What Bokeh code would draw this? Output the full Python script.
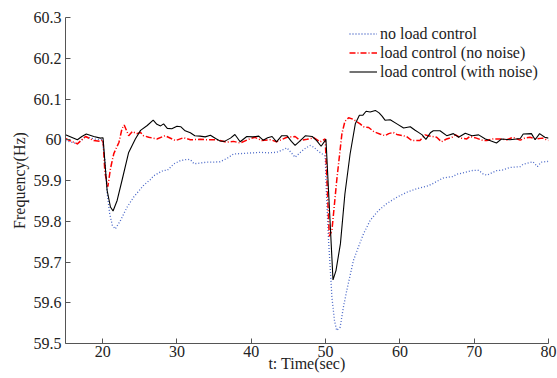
from bokeh.plotting import figure
from bokeh.models import Range1d, FixedTicker, NumeralTickFormatter, Legend, LegendItem
from bokeh.embed import file_html
from bokeh.resources import INLINE

# ---- data ----
t_noload = [15, 15.8, 16.6, 17.7, 18.8, 19.95, 20.3, 20.6, 20.95, 21.3, 21.7, 22.4, 23.3, 24.2, 25.5,
            26.4, 26.9, 28.2, 28.7, 29.6, 30.5, 31.4, 31.8, 32.3, 33.2, 34.0, 35.0, 35.8, 36.8, 37.6,
            38.5, 39.4, 40.3, 41.2, 42.3, 43.4, 44.2, 44.8, 45.4, 45.9, 46.6, 47.2, 47.9, 48.4, 49.0,
            49.95, 50.1, 50.4, 50.7, 50.85, 51.2, 51.5, 51.96, 52.4, 52.85, 53.3, 53.75, 54.4, 55.1,
            56.0, 57.1, 58.2, 59.6, 60.9, 62.3, 63.8, 64.5, 65.8, 67.2, 67.6, 68.8, 69.9, 70.6, 71.2,
            71.7, 73.0, 73.9, 74.8, 76.2, 76.6, 77.9, 78.5, 79.0, 80.0]
f_noload = [59.998, 59.994, 59.990, 60.008, 60.002, 60.000, 59.950, 59.870, 59.818, 59.790, 59.781,
            59.802, 59.835, 59.860, 59.888, 59.902, 59.912, 59.925, 59.925, 59.941, 59.949, 59.952,
            59.951, 59.941, 59.943, 59.945, 59.945, 59.946, 59.955, 59.965, 59.966, 59.967, 59.968,
            59.969, 59.968, 59.969, 59.975, 59.980, 59.968, 59.957, 59.969, 59.978, 59.986, 59.982,
            59.972, 59.960, 59.875, 59.753, 59.663, 59.614, 59.556, 59.532, 59.540, 59.589, 59.630,
            59.667, 59.704, 59.736, 59.769, 59.802, 59.826, 59.843, 59.859, 59.871, 59.880, 59.887,
            59.893, 59.906, 59.910, 59.915, 59.920, 59.925, 59.925, 59.916, 59.913, 59.924, 59.926,
            59.932, 59.934, 59.940, 59.946, 59.934, 59.945, 59.947]

t_ctrl = [15, 15.8, 16.6, 17.7, 18.8, 19.7, 20.05, 20.3, 20.7, 21.05, 21.5, 22.2, 22.6, 22.9, 23.5,
          24.0, 24.6, 25.1, 25.5, 26.2, 27.3, 28.4, 29.8, 30.9, 31.8, 33.1, 34.2, 35.4, 36.7, 37.6,
          38.5, 39.9, 40.5, 41.4, 42.6, 43.4, 44.8, 45.9, 46.6, 47.5, 48.4, 49.3, 49.95, 50.5, 50.85,
          51.2, 51.5, 51.9, 52.2, 52.6, 53.1, 53.75, 54.65, 55.1, 55.8, 56.5, 56.9, 57.3, 58.0, 58.5,
          59.1, 59.6, 60.9, 61.6, 62.7, 63.4, 63.8, 64.95, 65.6, 66.3, 67.0, 67.5, 68.2, 69.0, 69.4,
          70.3, 71.2, 71.7, 72.5, 73.5, 74.4, 75.2, 76.2, 76.8, 77.5, 78.4, 79.2, 80.0]
f_ctrl = [60.003, 59.996, 59.990, 60.008, 59.998, 59.996, 60.000, 59.920, 59.885, 59.929, 59.966,
          59.994, 60.027, 60.036, 60.010, 60.020, 60.015, 60.018, 60.010, 60.006, 60.002, 60.010,
          59.998, 60.005, 60.000, 60.001, 60.000, 60.000, 59.994, 59.996, 59.992, 60.003, 60.006,
          59.998, 60.000, 59.995, 60.006, 60.008, 59.998, 60.001, 60.005, 59.995, 60.002, 59.763,
          59.777, 59.843, 59.900, 59.966, 60.015, 60.045, 60.054, 60.050, 60.039, 60.032, 60.030,
          60.020, 60.017, 60.014, 60.010, 60.015, 60.018, 60.013, 60.008, 59.998, 59.998, 60.012,
          60.010, 60.006, 59.995, 60.002, 60.006, 60.012, 60.004, 60.002, 60.008, 60.004, 59.998,
          59.998, 60.002, 60.002, 60.000, 60.006, 59.999, 60.004, 60.006, 60.002, 60.004, 59.998]

t_noise = [15, 15.8, 16.6, 17.2, 17.8, 18.8, 19.7, 20.05, 20.6, 21.05, 21.4, 21.95, 22.6, 23.5, 24.4,
           25.1, 26.0, 26.8, 27.3, 27.8, 28.2, 28.7, 29.3, 30.0, 30.5, 31.1, 31.8, 32.4, 33.1, 33.8,
           34.5, 35.2, 35.8, 36.4, 37.2, 37.8, 38.5, 39.4, 40.2, 41.0, 41.6, 42.2, 42.8, 43.4, 44.1,
           44.8, 45.4, 45.9, 46.6, 47.3, 48.2, 48.8, 49.4, 50.05, 51.0, 51.4, 52.0, 52.6, 53.3, 54.0,
           54.55, 55.0, 55.45, 56.0, 56.7, 57.2, 57.6, 58.0, 58.7, 59.6, 60.5, 61.4, 62.0, 62.5, 63.0,
           63.5, 64.1, 64.5, 65.4, 66.3, 67.2, 67.9, 68.8, 69.7, 70.6, 71.5, 72.1, 73.0, 73.7, 74.8,
           75.7, 76.2, 76.6, 77.7, 78.2, 78.8, 79.5, 80.0]
f_noise = [60.012, 60.006, 60.000, 60.008, 60.014, 60.008, 60.004, 60.005, 59.876, 59.835, 59.825,
           59.851, 59.900, 59.969, 60.002, 60.023, 60.035, 60.048, 60.038, 60.034, 60.039, 60.028,
           60.027, 60.033, 60.032, 60.022, 60.017, 60.010, 60.009, 60.007, 60.011, 60.003, 59.997,
           59.996, 60.004, 60.013, 59.995, 60.008, 60.007, 60.009, 59.999, 60.005, 60.008, 59.995,
           60.010, 60.010, 59.996, 59.986, 59.998, 60.010, 60.008, 59.998, 59.984, 60.001, 59.656,
           59.679, 59.745, 59.867, 59.965, 60.039, 60.060, 60.060, 60.070, 60.068, 60.072, 60.066,
           60.058, 60.048, 60.049, 60.039, 60.029, 60.032, 60.024, 60.018, 60.012, 60.001, 60.017,
           60.022, 60.022, 60.010, 60.015, 60.006, 60.016, 60.010, 60.012, 60.002, 59.998, 59.992,
           60.002, 60.000, 60.002, 60.003, 60.014, 60.015, 60.000, 60.015, 60.006, 60.004]

x_ticks = [20, 30, 40, 50, 60, 70, 80]
y_ticks = [59.5, 59.6, 59.7, 59.8, 59.9, 60.0, 60.1, 60.2, 60.3]
series_labels = ["no load control", "load control (no noise)", "load control (with noise)"]

FONT = "Liberation Serif"
FS = "16px"
TXT = "#222222"
AX = "#555555"

p = figure(width=557, height=378, output_backend="svg", toolbar_location=None,
           x_range=Range1d(15, 80), y_range=Range1d(59.5, 60.3),
           min_border_left=65, min_border_right=9, min_border_top=17, min_border_bottom=35)
p.outline_line_color = None
p.grid.visible = False
p.background_fill_color = "white"
p.border_fill_color = "white"

r1 = p.line(t_noload, f_noload, line_color="#4a68c8", line_width=1.3, line_dash="1 2")
r2 = p.line(t_ctrl, f_ctrl, line_color="#ff0000", line_width=1.5, line_dash="6 2 1 2")
r3 = p.line(t_noise, f_noise, line_color="#000000", line_width=1.1)

for ax in (p.xaxis[0], p.yaxis[0]):
    ax.axis_line_color = AX
    ax.major_tick_line_color = AX
    ax.major_tick_in = 5
    ax.major_tick_out = 0
    ax.minor_tick_line_color = None
    ax.major_label_text_font = FONT
    ax.major_label_text_font_size = FS
    ax.major_label_text_color = TXT
    ax.axis_label_text_font = FONT
    ax.axis_label_text_font_size = FS
    ax.axis_label_text_font_style = "normal"
    ax.axis_label_text_color = TXT

p.xaxis.ticker = FixedTicker(ticks=x_ticks)
p.yaxis.ticker = FixedTicker(ticks=y_ticks)
p.yaxis.formatter = NumeralTickFormatter(format="0.[0]")
p.xaxis.axis_label = "t: Time(sec)"
p.yaxis.axis_label = "Frequency(Hz)"
p.xaxis.major_label_standoff = 2
p.xaxis.axis_label_standoff = -5
p.yaxis.major_label_standoff = 4
p.yaxis.axis_label_standoff = 3

legend = Legend(items=[LegendItem(label=series_labels[0], renderers=[r1]),
                       LegendItem(label=series_labels[1], renderers=[r2]),
                       LegendItem(label=series_labels[2], renderers=[r3])],
                location=(284, 262), border_line_color=None, background_fill_alpha=0,
                padding=0, margin=0, spacing=0, glyph_width=28, glyph_height=19,
                label_height=19, label_standoff=3,
                label_text_font=FONT, label_text_font_size=FS, label_text_color=TXT)
p.add_layout(legend)

open("out.html", "w").write(file_html(p, INLINE))
